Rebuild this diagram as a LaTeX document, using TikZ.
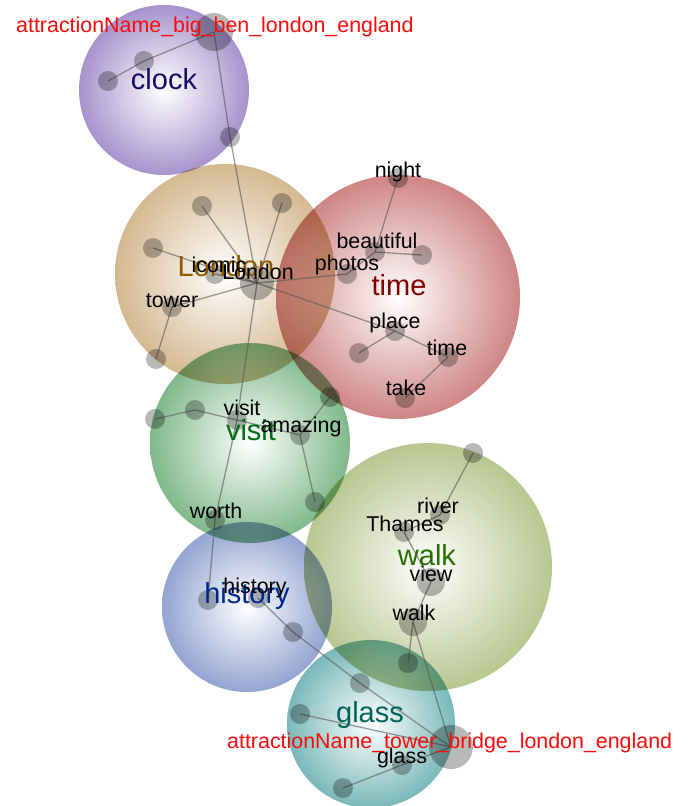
\documentclass[tikz,border=0pt]{standalone}
\usepackage{fontspec}
\setmainfont{Liberation Sans}
\pgfdeclarelayer{bubbles}
\pgfdeclarelayer{edges}
\pgfsetlayers{bubbles,edges,main}
\definecolor{cClock}{RGB}{150,128,195}
\definecolor{cLondon}{RGB}{205,172,125}
\definecolor{cTime}{RGB}{198,112,112}
\definecolor{cVisit}{RGB}{105,172,118}
\definecolor{cWalk}{RGB}{172,188,125}
\definecolor{cHist}{RGB}{128,148,200}
\definecolor{cGlass}{RGB}{98,172,172}
\definecolor{tClock}{RGB}{25,10,100}
\definecolor{tLondon}{RGB}{140,90,0}
\definecolor{tTime}{RGB}{130,0,0}
\definecolor{tVisit}{RGB}{0,110,20}
\definecolor{tWalk}{RGB}{40,110,0}
\definecolor{tHist}{RGB}{0,40,140}
\definecolor{tGlass}{RGB}{0,100,90}
\definecolor{tRed}{RGB}{250,10,10}
\tikzset{
  bubble/.style={shading=radial, inner color=white, outer color=#1, fill opacity=0.85},
  dot/.style={circle, fill=black, fill opacity=0.28, draw=none, inner sep=0pt, minimum size=#1},
  dot/.default=20bp,
  edge/.style={draw=black!65, draw opacity=0.6, line width=1.3bp},
  word/.style={anchor=base, text=black, inner sep=0pt, font=\fontsize{21.4bp}{24bp}\selectfont},
  cluster/.style={anchor=base, inner sep=0pt, text=#1, font=\fontsize{29bp}{32bp}\selectfont},
  attr/.style={anchor=base west, inner sep=0pt, text=tRed, font=\fontsize{21.4bp}{24bp}\selectfont},
}
\begin{document}
\begin{tikzpicture}[x=1bp, y=-1bp]
\useasboundingbox (0,0) rectangle (690,806);
% bubbles
\begin{pgfonlayer}{bubbles}
\begin{scope}[blend mode=multiply]
\shade[bubble=cClock] (164,90) circle (85);
\shade[bubble=cLondon] (225,274) circle (110);
\shade[bubble=cTime] (398,297) circle (122);
\shade[bubble=cVisit] (250,443) circle (100);
\shade[bubble=cWalk] (428,567) circle (124);
\shade[bubble=cHist] (247,607) circle (85);
\shade[bubble=cGlass] (371,724) circle (84);
\end{scope}
\end{pgfonlayer}
% dots
\node[dot=38bp] (bb) at (214,32) {};
\node[dot] (c1) at (144,61) {};
\node[dot] (c2) at (108,81) {};
\node[dot] (c3) at (230,137) {};
\node[dot=34bp] (lh) at (257,283) {};
\node[dot] (l1) at (202,206) {};
\node[dot] (l2) at (282,203) {};
\node[dot] (l3) at (153,248) {};
\node[dot] (lic) at (215,274) {};
\node[dot] (ltw) at (172,307) {};
\node[dot] (l4) at (156,359) {};
\node[dot] (tn) at (398,178) {};
\node[dot] (tb) at (375,252) {};
\node[dot] (t1) at (422,255) {};
\node[dot] (tp) at (347,274) {};
\node[dot] (tpl) at (395,331) {};
\node[dot] (t2) at (359,353) {};
\node[dot] (tt) at (448,357) {};
\node[dot] (tk) at (405,398) {};
\node[dot] (v0) at (330,397) {};
\node[dot] (v1) at (155,419) {};
\node[dot] (v2) at (195,410) {};
\node[dot] (vv) at (237,420) {};
\node[dot] (va) at (300,435) {};
\node[dot] (v3) at (315,502) {};
\node[dot] (vw) at (215,520) {};
\node[dot] (h1) at (208,600) {};
\node[dot] (hh) at (258,598) {};
\node[dot] (h2) at (293,632) {};
\node[dot] (g1) at (360,683) {};
\node[dot=44bp] (tbh) at (451,747) {};
\node[dot] (g2) at (300,714) {};
\node[dot] (gg) at (402,765) {};
\node[dot] (g3) at (343,788) {};
\node[dot] (g4) at (408,663) {};
\node[dot] (w1) at (473,453) {};
\node[dot] (wr) at (440,515) {};
\node[dot] (wt) at (404,532) {};
\node[dot=28bp] (wv) at (431,582) {};
\node[dot=28bp] (ww) at (413,622) {};
% edges
\begin{pgfonlayer}{edges}
\foreach \a/\b in {bb/c1, c1/c2, bb/c3, c3/lh, lh/l1, lh/l2, lh/l3, lh/lic, lh/ltw, ltw/l4,
  lh/tp, lh/tpl, tpl/tt, tpl/t2, tt/tk, tn/tb, tb/t1, tb/tp,
  lh/vv, v1/v2, v2/vv, vv/va, va/v0, va/v3, vv/vw, vw/h1,
  hh/h2, h2/g1, g1/tbh, g2/tbh, gg/tbh, gg/g3,
  w1/wr, wr/wt, wt/wv, wv/ww, ww/g4, ww/tbh}
  \draw[edge] (\a.center) -- (\b.center);
\end{pgfonlayer}
% cluster labels
\node[cluster=tClock] (kClock) at (164,89) {clock};
\node[cluster=tLondon] (kLondon) at (226,276) {London};
\node[cluster=tTime] (kTime) at (399,295) {time};
\node[cluster=tVisit] (kVisit) at (251,440) {visit};
\node[cluster=tWalk] (kWalk) at (427,565) {walk};
\node[cluster=tHist] (kHist) at (247,603) {history};
\node[cluster=tGlass] (kGlass) at (370,722) {glass};
% word labels
\node[word] (wIconic) at (219,272) {iconic};
\node[word] (wLondon) at (258,279) {London};
\node[word] (wTower) at (172,307) {tower};
\node[word] (wNight) at (398,177) {night};
\node[word] (wBeaut) at (377,248) {beautiful};
\node[word] (wPhotos) at (347,270) {photos};
\node[word] (wPlace) at (395,328) {place};
\node[word] (wTime) at (447,355) {time};
\node[word] (wTake) at (406,395) {take};
\node[word] (wVisit) at (242,415) {visit};
\node[word] (wAmaz) at (301,432) {amazing};
\node[word] (wWorth) at (216,518) {worth};
\node[word] (wHist) at (255,593) {history};
\node[word] (wRiver) at (438,513) {river};
\node[word] (wThames) at (405,531) {Thames};
\node[word] (wView) at (431,581) {view};
\node[word] (wWalk) at (414,620) {walk};
\node[word] (wGlass) at (402,763) {glass};
% attraction labels
\node[attr] (aBigBen) at (16,33) {attractionName\_big\_ben\_london\_england};
\node[attr] (aTower) at (227,748) {attractionName\_tower\_bridge\_london\_england};
\end{tikzpicture}
\end{document}
